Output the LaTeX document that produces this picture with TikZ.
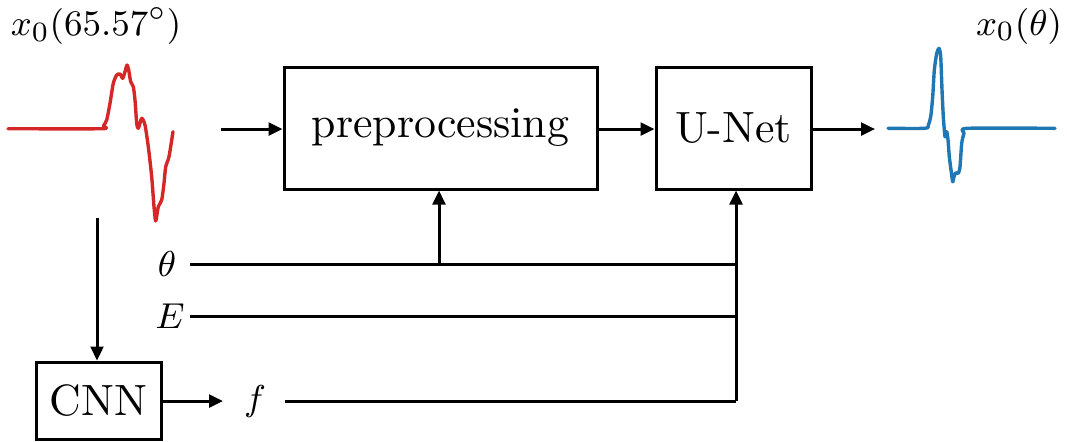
\documentclass[tikz,border=0pt]{standalone}
\usetikzlibrary{arrows.meta}
\definecolor{wavered}{HTML}{D62728}
\definecolor{waveblue}{HTML}{1F77B4}
\begin{document}
\begin{tikzpicture}[x=0.25pt,y=-0.25pt,
  every node/.style={font=\fontsize{10.95}{13}\selectfont, inner sep=0pt},
  lbl/.style={font=\fontsize{9.3}{11}\selectfont},
  block/.style={draw, line width=0.75pt},
  conn/.style={line width=0.75pt},
  arr/.style={conn, -{Triangle[length=3.5pt,width=3.2pt]}},
  wave/.style={line width=0.85pt, line join=round, line cap=round}]
\useasboundingbox (0,0) rectangle (1067,441);

% blocks
\node[block, minimum width=78.25pt, minimum height=30.5pt] (pre) at (440.5,128) {preprocessing};
\node[block, minimum width=38.75pt, minimum height=30.5pt] (unet) at (733.5,128) {U-Net};
\node[block, minimum width=31.25pt, minimum height=19.25pt] (cnn) at (98.5,400.5) {CNN};

% labels
\node[lbl] (inlbl) at (96,26) {$x_0(65.57^\circ)$};
\node[lbl] (outlbl) at (1019,26) {$x_0(\theta)$};
\node[lbl] (theta) at (167,264) {$\theta$};
\node[lbl] (energy) at (170,316) {$E$};
\node[lbl] (freq) at (255,401) {$f$};

% input and output waveforms
\draw[wave, wavered] plot[smooth, tension=0.4] coordinates {
  (8,128.7) (101.7,128.7) (103.3,126) (106.7,120) (110,103.3) (113.3,83.3)
  (116.7,75) (120,74) (122.7,78.3) (125,71.7) (127,65) (128.7,70)
  (130.7,81.7) (133.3,86.7) (135,100) (136.7,123.3) (138.3,128.3)
  (141.7,118.3) (145,125) (148.3,146.7) (151.7,176.7) (154,206.7)
  (155.7,221) (158.3,206.7) (161.7,200) (164,183.3) (165.7,166.7)
  (169,156.7) (173,131.7)};
\draw[wave, waveblue] plot[smooth, tension=0.4] coordinates {
  (888,128.3) (925,128.3) (928.3,125) (930.7,116.7) (932.7,96.7) (934.3,70)
  (936.7,53.3) (939,48.3) (940.7,56.7) (942,90) (943.3,116.7) (945,136.7)
  (946.7,131.7) (948,140) (949.3,156.7) (951,170) (952.7,181.7) (954,176.7)
  (955.7,172.7) (958.3,173.3) (960,166.7) (961.7,143.3) (964,133.3)
  (967.3,128.3) (1055,128.3)};

% connector end points
\coordinate (wavein) at (221,129);
\coordinate (waveout) at (875,129);
\coordinate (wavedown) at (97,218);
\coordinate (bus) at (736,0);
\coordinate (pretap) at (439,0);
\coordinate (linestart) at (190,0);
\coordinate (fstart) at (285,0);
\coordinate (fend) at (223,0);

% main chain
\draw[arr] (wavein) -- (wavein -| pre.west);
\draw[arr] (pre.east |- wavein) -- (unet.west |- wavein);
\draw[arr] (unet.east |- wavein) -- (waveout);
\draw[arr] (wavedown) -- (wavedown |- cnn.north);
\draw[arr] (cnn.east |- freq) -- (fend |- freq);

% conditioning lines
\draw[conn] (linestart |- theta) -- (theta -| bus);
\draw[conn] (linestart |- energy) -- (energy -| bus);
\draw[conn] (fstart |- freq) -- (freq -| bus);
\draw[arr] (freq -| bus) -- (bus |- unet.south);
\draw[arr] (theta -| pretap) -- (pretap |- pre.south);
\end{tikzpicture}
\end{document}
